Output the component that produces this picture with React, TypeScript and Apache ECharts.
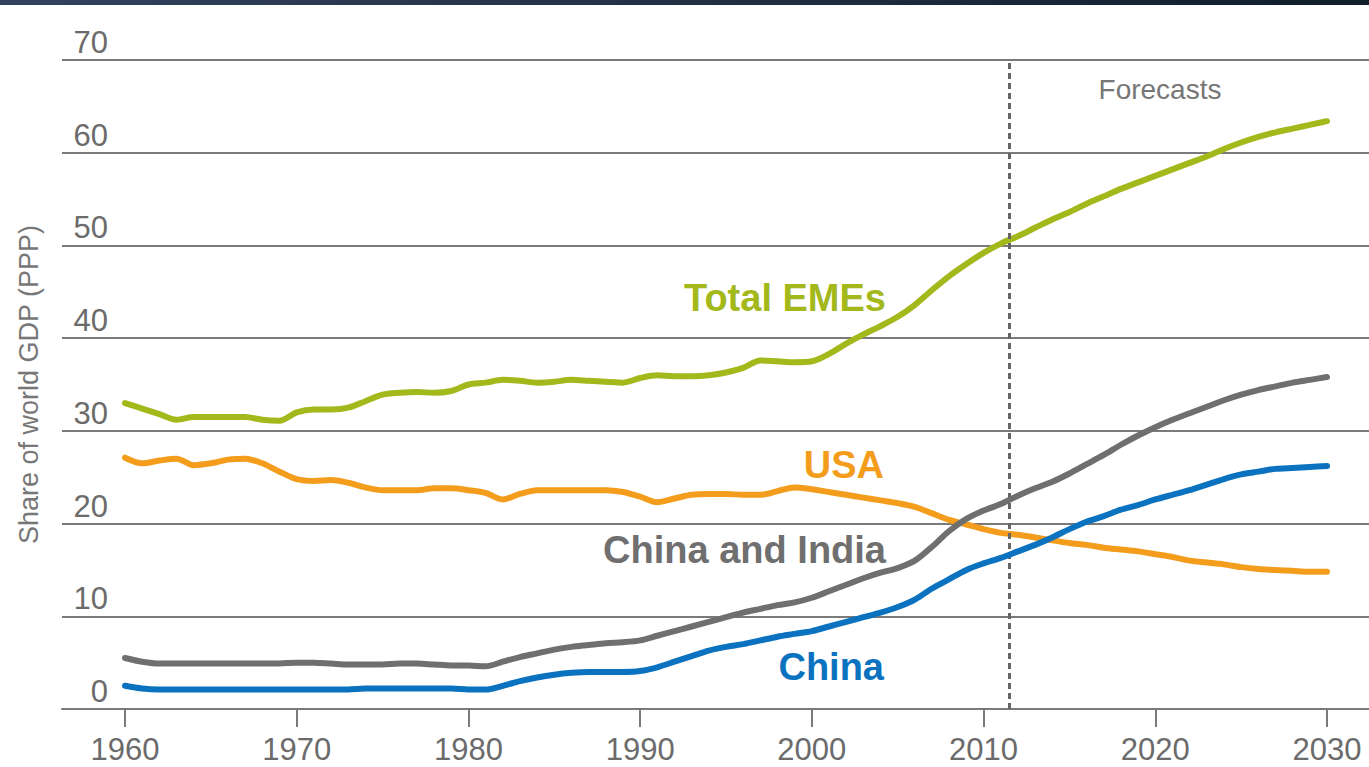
import React, { useEffect, useRef } from "react";
import * as echarts from "echarts";

const years: number[] = [];
for (let y = 1960; y <= 2030; y++) years.push(y);

const totalEMEs = [
  33.0, 32.4, 31.8, 31.2, 31.5, 31.5, 31.5, 31.5, 31.2, 31.1,
  32.0, 32.3, 32.3, 32.5, 33.2, 33.9, 34.1, 34.2, 34.1, 34.3,
  35.0, 35.2, 35.5, 35.4, 35.2, 35.3, 35.5, 35.4, 35.3, 35.2,
  35.7, 36.0, 35.9, 35.9, 36.0, 36.3, 36.8, 37.6, 37.5, 37.4,
  37.5, 38.3, 39.4, 40.4, 41.3, 42.3, 43.6, 45.2, 46.7, 48.0,
  49.2, 50.2, 51.0, 51.9, 52.8, 53.6, 54.5, 55.3, 56.1, 56.8,
  57.5, 58.2, 58.9, 59.6, 60.4, 61.1, 61.7, 62.2, 62.6, 63.0,
  63.4,
];

const usa = [
  27.1, 26.5, 26.8, 27.0, 26.3, 26.5, 26.9, 27.0, 26.5, 25.6,
  24.8, 24.6, 24.7, 24.4, 23.9, 23.6, 23.6, 23.6, 23.8, 23.8,
  23.6, 23.3, 22.6, 23.2, 23.6, 23.6, 23.6, 23.6, 23.6, 23.4,
  22.9, 22.3, 22.7, 23.1, 23.2, 23.2, 23.1, 23.1, 23.5, 23.9,
  23.7, 23.4, 23.1, 22.8, 22.5, 22.2, 21.8, 21.1, 20.4, 19.9,
  19.4, 19.0, 18.8, 18.5, 18.2, 17.9, 17.7, 17.4, 17.2, 17.0,
  16.7, 16.4, 16.0, 15.8, 15.6, 15.3, 15.1, 15.0, 14.9, 14.8,
  14.8,
];

const chinaIndia = [
  5.5, 5.1, 4.9, 4.9, 4.9, 4.9, 4.9, 4.9, 4.9, 4.9,
  5.0, 5.0, 4.9, 4.8, 4.8, 4.8, 4.9, 4.9, 4.8, 4.7,
  4.7, 4.6, 5.1, 5.6, 6.0, 6.4, 6.7, 6.9, 7.1, 7.2,
  7.4, 7.9, 8.4, 8.9, 9.4, 9.9, 10.4, 10.8, 11.2, 11.5,
  12.0, 12.7, 13.4, 14.1, 14.7, 15.2, 16.0, 17.5, 19.2, 20.5,
  21.4, 22.1, 23.0, 23.8, 24.5, 25.4, 26.4, 27.4, 28.5, 29.5,
  30.4, 31.2, 31.9, 32.6, 33.3, 33.9, 34.4, 34.8, 35.2, 35.5,
  35.8,
];

const china = [
  2.5, 2.2, 2.1, 2.1, 2.1, 2.1, 2.1, 2.1, 2.1, 2.1,
  2.1, 2.1, 2.1, 2.1, 2.2, 2.2, 2.2, 2.2, 2.2, 2.2,
  2.1, 2.1, 2.5, 3.0, 3.4, 3.7, 3.9, 4.0, 4.0, 4.0,
  4.1, 4.5, 5.1, 5.7, 6.3, 6.7, 7.0, 7.4, 7.8, 8.1,
  8.4, 8.9, 9.4, 9.9, 10.4, 11.0, 11.8, 13.0, 14.0, 15.0,
  15.7, 16.3, 17.0, 17.7, 18.5, 19.4, 20.2, 20.8, 21.5, 22.0,
  22.6, 23.1, 23.6, 24.2, 24.8, 25.3, 25.6, 25.9, 26.0, 26.1,
  26.2,
];

const xTicks = [1960, 1970, 1980, 1990, 2000, 2010, 2020, 2030];
const forecastStart = 2011.5;

const seriesDefs = [
  { name: "Total EMEs", data: totalEMEs, color: "#a3b81b" },
  { name: "USA", data: usa, color: "#f49d1d" },
  { name: "China and India", data: chinaIndia, color: "#6f6f6f" },
  { name: "China", data: china, color: "#0b72bf" },
];

const FONT = "Liberation Sans, Arial, sans-serif";

export default function App() {
  const ref = useRef<HTMLDivElement>(null);

  useEffect(() => {
    if (!ref.current) return;
    const chart = echarts.init(ref.current, null, { renderer: "svg" });
    const series: any[] = seriesDefs.map((s, i) => ({
      name: s.name,
      type: "line",
      data: years.map((y, k) => [y, s.data[k]]),
      showSymbol: false,
      smooth: 0.3,
      lineStyle: { color: s.color, width: 6, cap: "round", join: "round" },
      itemStyle: { color: s.color },
      z: 3 + i,
      ...(i === 0
        ? {
            markLine: {
              silent: true,
              symbol: ["none", "none"],
              label: { show: false },
              lineStyle: { color: "#666666", width: 3, type: [6, 4] },
              data: [{ xAxis: forecastStart }],
            },
          }
        : {}),
    }));

    chart.setOption({
      animation: false,
      backgroundColor: "#ffffff",
      textStyle: { fontFamily: FONT },
      grid: { left: 62, right: 0, top: 60, bottom: 58, containLabel: false },
      xAxis: {
        type: "value",
        min: 1956.331,
        max: 2032.446,
        axisLine: { show: true, lineStyle: { color: "#7a7a7a", width: 2 } },
        axisTick: {
          show: true,
          customValues: xTicks,
          length: 18,
          lineStyle: { color: "#7a7a7a", width: 2 },
        },
        axisLabel: {
          customValues: xTicks,
          formatter: (v: number) => String(v),
          fontSize: 31,
          color: "#6b6b6b",
          margin: 25,
          fontFamily: FONT,
        },
        splitLine: { show: false },
      },
      yAxis: {
        type: "value",
        min: 0,
        max: 70,
        interval: 10,
        name: "Share of world GDP (PPP)",
        nameLocation: "middle",
        nameRotate: 90,
        nameGap: 20,
        nameTextStyle: { fontSize: 27, color: "#777777", fontFamily: FONT },
        axisLine: { show: false },
        axisTick: { show: false },
        axisLabel: {
          inside: true,
          align: "right",
          verticalAlign: "bottom",
          margin: 46,
          padding: [0, 0, 2, 0],
          fontSize: 31,
          color: "#6b6b6b",
          fontFamily: FONT,
          showMinLabel: true,
          showMaxLabel: true,
        },
        splitLine: { show: true, lineStyle: { color: "#7a7a7a", width: 2 } },
      },
      graphic: [
        {
          type: "rect",
          left: 0,
          top: 0,
          shape: { width: 1369, height: 5 },
          style: {
            fill: new echarts.graphic.LinearGradient(0, 0, 1, 0, [
              { offset: 0, color: "#33435e" },
              { offset: 1, color: "#111d2b" },
            ]),
          },
        },
        {
          type: "text",
          x: 1160,
          y: 89,
          style: {
            text: "Forecasts",
            fill: "#777777",
            font: `28px ${FONT}`,
            align: "center",
            verticalAlign: "middle",
          },
        },
        {
          type: "text",
          x: 886,
          y: 298,
          style: {
            text: "Total EMEs",
            fill: "#a3b81b",
            font: `bold 38px ${FONT}`,
            align: "right",
            verticalAlign: "middle",
          },
        },
        {
          type: "text",
          x: 884,
          y: 465,
          style: {
            text: "USA",
            fill: "#f49d1d",
            font: `bold 38px ${FONT}`,
            align: "right",
            verticalAlign: "middle",
          },
        },
        {
          type: "text",
          x: 886,
          y: 550,
          style: {
            text: "China and India",
            fill: "#6f6f6f",
            font: `bold 38px ${FONT}`,
            align: "right",
            verticalAlign: "middle",
          },
        },
        {
          type: "text",
          x: 884,
          y: 667,
          style: {
            text: "China",
            fill: "#0b72bf",
            font: `bold 38px ${FONT}`,
            align: "right",
            verticalAlign: "middle",
          },
        },
      ],
      series,
    });
    return () => chart.dispose();
  }, []);

  return (
    <div
      ref={ref}
      style={{ position: "fixed", left: 0, top: 0, width: 1369, height: 767, background: "#fff" }}
    />
  );
}
